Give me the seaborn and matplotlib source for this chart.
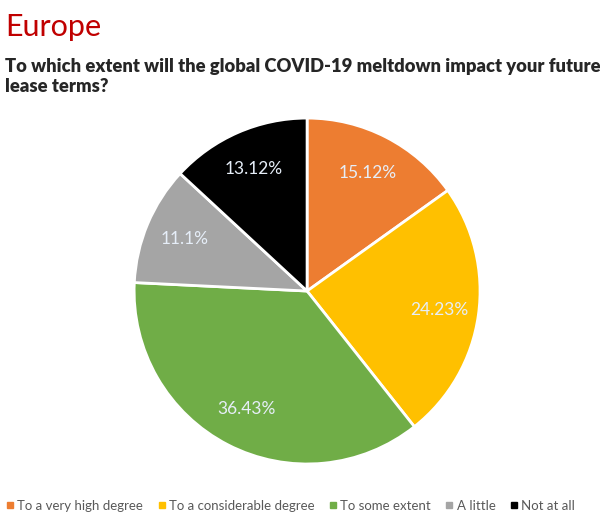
import numpy as np
import seaborn as sns
import matplotlib.pyplot as plt
from matplotlib.lines import Line2D

sns.set_style("white")
plt.rcParams['font.family'] = ['Lato', 'DejaVu Sans']

CATEGORIES = ["To a very high degree", "To a considerable degree", "To some extent", "A little", "Not at all"]
VALUES = [15.12, 24.23, 36.43, 11.1, 13.12]
PCT_LABELS = ["15.12%", "24.23%", "36.43%", "11.1%", "13.12%"]
COLORS = ["#ED7D31", "#FFC000", "#70AD47", "#A5A5A5", "#000000"]


def main():
  fig = plt.figure(figsize=(6.0, 5.14), dpi=100)
  ax = fig.add_axes([0.2233, 0.0973, 0.577, 0.673])

  wedges, texts = ax.pie(VALUES, colors=COLORS, labels=PCT_LABELS, startangle=90,
                         counterclock=False, labeldistance=0.77,
                         wedgeprops=dict(edgecolor="white", linewidth=2))
  for t in texts:
    t.set_ha("center")
    t.set_va("center")
    t.set_color("#e6eef8")
    t.set_fontsize(12.5)
  ax.set_xlim(-1, 1)
  ax.set_ylim(-1, 1)

  fig.text(0.008, 0.975, "Europe", color="#C00000", fontsize=22, ha="left", va="top")
  fig.text(0.008, 0.888, "To which extent will the global COVID-19 meltdown impact your future\nlease terms?",
           fontsize=13.2, fontweight="heavy", ha="left", va="top", linespacing=1.25)

  handles = [Line2D([], [], marker="s", linestyle="", color=c, markersize=4) for c in COLORS]
  fig.legend(handles, CATEGORIES, loc="lower left", bbox_to_anchor=(0.0, -0.008), ncol=5,
             frameon=False, fontsize=9.5, handlelength=0.5, handletextpad=0.3, columnspacing=1.15,
             borderpad=0.3, borderaxespad=0.2, labelcolor="#595959")

  plt.savefig("out.png", dpi=100)


if __name__ == "__main__":
  main()
